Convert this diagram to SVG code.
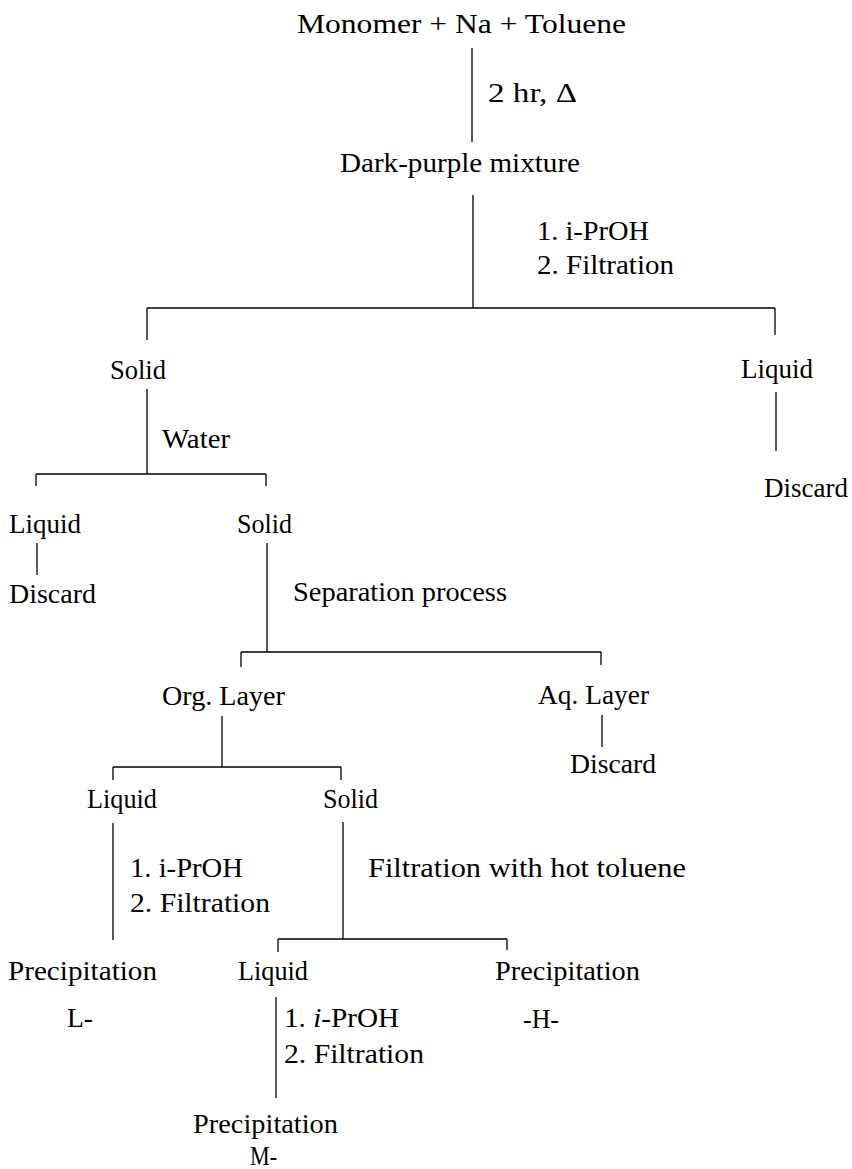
<svg xmlns="http://www.w3.org/2000/svg" width="852" height="1169" viewBox="0 0 852 1169">
<style>
  .t { font-family: "Liberation Serif", "Times New Roman", serif; font-size: 27px; fill: #000; }
  .c line { stroke: #000; stroke-width: 1.3; }
  .c line.h { stroke-width: 1.6; }
</style>
<rect x="0" y="0" width="852" height="1169" fill="#fff"/>
<g id="connectors" class="c">
  <line x1="472" y1="48" x2="472" y2="142"/>
  <line x1="473" y1="195" x2="473" y2="308"/>
  <line class="h" x1="147" y1="308" x2="775" y2="308"/>
  <line x1="147" y1="308" x2="147" y2="340"/>
  <line x1="775" y1="308" x2="775" y2="335"/>
  <line x1="776" y1="392" x2="776" y2="451"/>
  <line x1="147" y1="389" x2="147" y2="474"/>
  <line class="h" x1="36" y1="474" x2="266" y2="474"/>
  <line x1="36" y1="474" x2="36" y2="486"/>
  <line x1="266" y1="474" x2="266" y2="486"/>
  <line x1="37" y1="543" x2="37" y2="575"/>
  <line x1="267" y1="543" x2="267" y2="652"/>
  <line class="h" x1="241" y1="652" x2="601" y2="652"/>
  <line x1="241" y1="652" x2="241" y2="667"/>
  <line x1="601" y1="652" x2="601" y2="665"/>
  <line x1="602" y1="715" x2="602" y2="747"/>
  <line x1="222" y1="716" x2="222" y2="767"/>
  <line class="h" x1="113" y1="767" x2="341" y2="767"/>
  <line x1="113" y1="767" x2="113" y2="780"/>
  <line x1="341" y1="767" x2="341" y2="780"/>
  <line x1="113" y1="823" x2="113" y2="940"/>
  <line x1="343" y1="822" x2="343" y2="939"/>
  <line class="h" x1="278" y1="939" x2="507" y2="939"/>
  <line x1="278" y1="939" x2="278" y2="952"/>
  <line x1="507" y1="939" x2="507" y2="950"/>
  <line x1="276" y1="997" x2="276" y2="1098"/>
</g>
<g id="start"><text class="t" x="297" y="33" textLength="329" lengthAdjust="spacingAndGlyphs">Monomer + Na + Toluene</text></g>
<g id="label-heat"><text class="t" x="488" y="102" textLength="89" lengthAdjust="spacingAndGlyphs">2 hr, Δ</text></g>
<g id="mixture"><text class="t" x="340" y="172" textLength="240" lengthAdjust="spacingAndGlyphs">Dark-purple mixture</text></g>
<g id="label-step1">
  <text class="t" x="537" y="240" textLength="112" lengthAdjust="spacingAndGlyphs">1. i-PrOH</text>
  <text class="t" x="537" y="274" textLength="137" lengthAdjust="spacingAndGlyphs">2. Filtration</text>
</g>
<g id="solid1"><text class="t" x="110" y="379" textLength="56" lengthAdjust="spacingAndGlyphs">Solid</text></g>
<g id="liquid1"><text class="t" x="741" y="378" textLength="72" lengthAdjust="spacingAndGlyphs">Liquid</text></g>
<g id="label-water"><text class="t" x="162" y="448" textLength="68" lengthAdjust="spacingAndGlyphs">Water</text></g>
<g id="discard1"><text class="t" x="764" y="497" textLength="84" lengthAdjust="spacingAndGlyphs">Discard</text></g>
<g id="liquid2"><text class="t" x="9" y="533" textLength="72" lengthAdjust="spacingAndGlyphs">Liquid</text></g>
<g id="solid2"><text class="t" x="237" y="533" textLength="55" lengthAdjust="spacingAndGlyphs">Solid</text></g>
<g id="discard2"><text class="t" x="9" y="603" textLength="87" lengthAdjust="spacingAndGlyphs">Discard</text></g>
<g id="label-separation"><text class="t" x="293" y="601" textLength="214" lengthAdjust="spacingAndGlyphs">Separation process</text></g>
<g id="org-layer"><text class="t" x="162" y="705" textLength="123" lengthAdjust="spacingAndGlyphs">Org. Layer</text></g>
<g id="aq-layer"><text class="t" x="538" y="704" textLength="111" lengthAdjust="spacingAndGlyphs">Aq. Layer</text></g>
<g id="discard3"><text class="t" x="570" y="773" textLength="86" lengthAdjust="spacingAndGlyphs">Discard</text></g>
<g id="liquid3"><text class="t" x="87" y="808" textLength="70" lengthAdjust="spacingAndGlyphs">Liquid</text></g>
<g id="solid3"><text class="t" x="323" y="808" textLength="55" lengthAdjust="spacingAndGlyphs">Solid</text></g>
<g id="label-step2">
  <text class="t" x="130" y="877" textLength="113" lengthAdjust="spacingAndGlyphs">1. i-PrOH</text>
  <text class="t" x="130" y="912" textLength="140" lengthAdjust="spacingAndGlyphs">2. Filtration</text>
</g>
<g id="label-hot-toluene"><text class="t" x="368" y="877" textLength="318" lengthAdjust="spacingAndGlyphs">Filtration with hot toluene</text></g>
<g id="precip-L">
  <text class="t" x="8" y="980" textLength="149" lengthAdjust="spacingAndGlyphs">Precipitation</text>
  <text class="t" x="67" y="1027" textLength="26" lengthAdjust="spacingAndGlyphs">L-</text>
</g>
<g id="liquid4"><text class="t" x="238" y="980" textLength="70" lengthAdjust="spacingAndGlyphs">Liquid</text></g>
<g id="precip-H">
  <text class="t" x="495" y="980" textLength="145" lengthAdjust="spacingAndGlyphs">Precipitation</text>
  <text class="t" x="523" y="1028" textLength="36" lengthAdjust="spacingAndGlyphs">-H-</text>
</g>
<g id="label-step3">
  <text class="t" x="284" y="1027" textLength="115" lengthAdjust="spacingAndGlyphs">1. <tspan font-style="italic">i</tspan>-PrOH</text>
  <text class="t" x="284" y="1063" textLength="140" lengthAdjust="spacingAndGlyphs">2. Filtration</text>
</g>
<g id="precip-M">
  <text class="t" x="193" y="1133" textLength="145" lengthAdjust="spacingAndGlyphs">Precipitation</text>
  <text class="t" x="250" y="1165" textLength="27" lengthAdjust="spacingAndGlyphs">M-</text>
</g>
</svg>
